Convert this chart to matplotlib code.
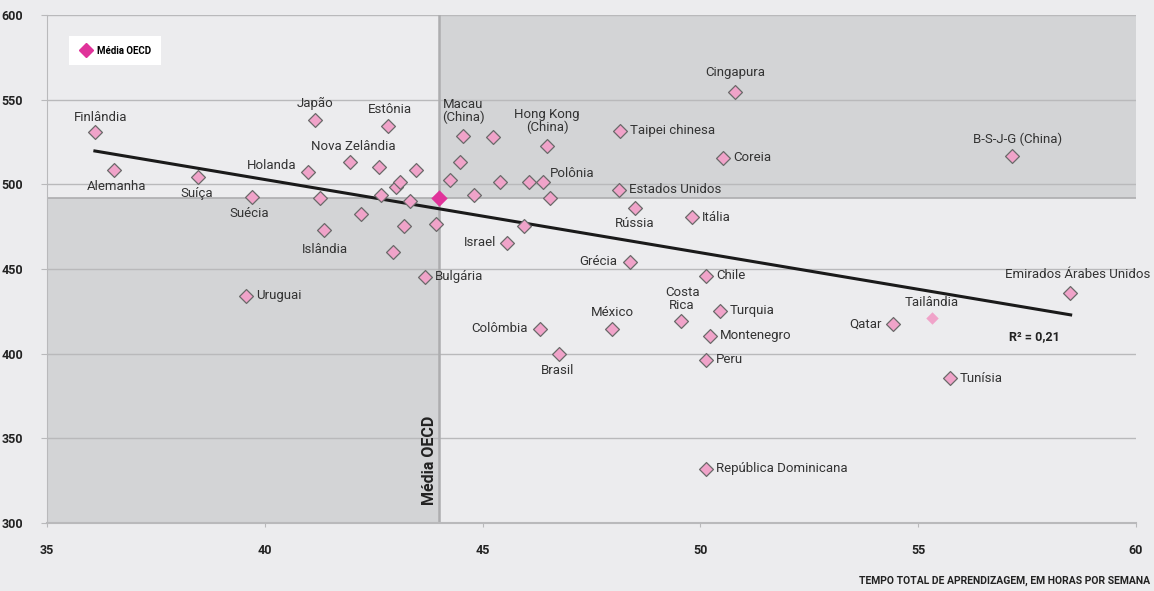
import matplotlib.pyplot as plt
from matplotlib.lines import Line2D
from matplotlib.patches import Rectangle
import numpy as np

plt.rcParams['font.family'] = ['Roboto', 'DejaVu Sans']

# paises com rotulo
paises = ['Finlândia', 'Alemanha', 'Suíça', 'Suécia', 'Uruguai', 'Holanda', 'Japão',
          'Nova Zelândia', 'Estônia', 'Islândia', 'Bulgária', 'Macau\n(China)',
          'Hong Kong\n(China)', 'Taipei chinesa', 'Polônia', 'Estados Unidos', 'Rússia',
          'Israel', 'Grécia', 'Cingapura', 'Coreia', 'Itália', 'Chile', 'Turquia',
          'Montenegro', 'Peru', 'Costa\nRica', 'México', 'Colômbia', 'Brasil',
          'República Dominicana', 'B-S-J-G (China)', 'Emirados Árabes Unidos', 'Qatar',
          'Tunísia']
horas = [36.10, 36.54, 38.47, 39.71, 39.57, 40.99, 41.15,
         41.96, 42.83, 41.36, 43.68, 44.55,
         46.48, 48.15, 46.39, 48.13, 48.50,
         45.56, 48.38, 50.79, 50.52, 49.81, 50.13, 50.45,
         50.22, 50.13, 49.55, 47.97, 46.32, 46.75,
         50.13, 57.15, 58.48, 54.42,
         55.73]
nota = [531.0, 508.5, 504.4, 492.6, 434.1, 507.3, 538.0,
        513.2, 534.5, 473.1, 445.3, 528.6,
        522.7, 531.5, 501.4, 496.7, 486.1,
        465.4, 454.2, 554.6, 515.6, 480.7, 445.9, 425.2,
        410.5, 396.3, 419.3, 414.6, 414.6, 399.8,
        331.9, 516.8, 435.9, 417.5,
        385.6]

# paises sem rotulo
horas_sr = [41.27, 42.62, 43.47, 43.01, 43.10, 42.67, 43.33, 42.21, 43.20, 43.93,
            42.94, 44.25, 44.48, 44.80, 45.24, 45.40, 46.07, 46.55, 45.95]
nota_sr = [492.0, 510.3, 508.5, 498.5, 501.4, 493.7, 490.2, 482.5, 475.4, 476.6,
           460.1, 502.6, 513.2, 493.7, 528.0, 501.4, 501.4, 492.0, 475.4]

# Tailandia (cor mais clara)
tai_x, tai_y = 55.32, 421.1

# media OECD
oecd_x, oecd_y = 44.0, 492.0

# linha de tendencia
trend_x = [36.1, 58.5]
trend_y = [519.7, 422.9]

# posicao dos rotulos (offset em pontos, alinhamento)
pos = {
    'Finlândia': (4, 10, 'center'), 'Alemanha': (2, -12, 'center'), 'Suíça': (-1, -12, 'center'),
    'Suécia': (-2, -12, 'center'), 'Uruguai': (7, 0, 'left'), 'Holanda': (-8, 5, 'right'),
    'Japão': (0, 12, 'center'), 'Nova Zelândia': (2, 11, 'center'), 'Estônia': (1, 12, 'center'),
    'Islândia': (1, -14, 'center'), 'Bulgária': (7, 0, 'left'), 'Macau\n(China)': (0, 18, 'center'),
    'Hong Kong\n(China)': (0, 18, 'center'), 'Taipei chinesa': (7, 0, 'left'),
    'Polônia': (5, 6, 'left'), 'Estados Unidos': (7, 0, 'left'), 'Rússia': (0, -11, 'center'),
    'Israel': (-8, 0, 'right'), 'Grécia': (-9, 0, 'right'), 'Cingapura': (0, 14, 'center'),
    'Coreia': (7, 0, 'left'), 'Itália': (7, 0, 'left'), 'Chile': (7, 0, 'left'),
    'Turquia': (7, 0, 'left'), 'Montenegro': (7, 0, 'left'), 'Peru': (7, 0, 'left'),
    'Costa\nRica': (1, 16, 'center'), 'México': (0, 12, 'center'), 'Colômbia': (-9, 0, 'right'),
    'Brasil': (-1, -12, 'center'), 'República Dominicana': (7, 0, 'left'),
    'B-S-J-G (China)': (4, 12, 'center'), 'Emirados Árabes Unidos': (6, 13, 'center'),
    'Qatar': (-8, 0, 'right'), 'Tunísia': (7, 0, 'left'),
}

bg = '#ececee'
dark = '#d3d4d6'
grid = '#b9b9bb'
pink = '#f0a3c9'

fig = plt.figure(figsize=(11.54, 5.91), dpi=100, facecolor=bg)
ax = fig.add_axes([0.0407, 0.1151, 0.9437, 0.8595])
ax.set_facecolor(bg)
ax.set_xlim(35, 60)
ax.set_ylim(300, 600)

# quadrantes escuros
ax.add_patch(Rectangle((oecd_x, oecd_y), 60 - oecd_x, 600 - oecd_y, color=dark, zorder=0, lw=0))
ax.add_patch(Rectangle((35, 300), oecd_x - 35, oecd_y - 300, color=dark, zorder=0, lw=0))

for v in [350, 400, 450, 500, 550, 600]:
    ax.axhline(v, color=grid, lw=1, zorder=1)
ax.axvline(oecd_x, color='#adadaf', lw=1.8, zorder=1)
ax.axhline(oecd_y, color='#adadaf', lw=1.2, zorder=1)

ax.plot(trend_x, trend_y, color='#1a1a1a', lw=2.2, zorder=3)

ax.scatter(horas, nota, marker='D', s=50, color=pink, edgecolor='#6a6a6a', lw=0.9, zorder=4)
ax.scatter(horas_sr, nota_sr, marker='D', s=50, color=pink, edgecolor='#6a6a6a', lw=0.9, zorder=4)
ax.scatter([tai_x], [tai_y], marker='D', s=40, color=pink, lw=0, zorder=4)
ax.scatter([oecd_x], [oecd_y], marker='D', s=70, color='#e0339a', lw=0, zorder=5)

for nome, x, y in zip(paises, horas, nota):
    dx, dy, ha = pos[nome]
    ax.annotate(nome, (x, y), xytext=(dx, dy), textcoords='offset points',
                ha=ha, va='center', fontsize=9.5, color='#333333', linespacing=0.95, zorder=6)
ax.annotate('Tailândia', (tai_x, tai_y), xytext=(0, 11), textcoords='offset points',
            ha='center', va='center', fontsize=9.5, color='#333333', zorder=6)

ax.text(58.26, 410, 'R² = 0,21', ha='right', va='center', fontsize=9, fontweight='bold', color='#222222')
ax.text(43.78, 337, 'Média OECD', rotation=90, ha='center', va='center', fontsize=11.5,
        fontweight='bold', color='#222222')

leg = ax.legend(handles=[Line2D([], [], marker='D', ls='none', color='#e0339a', markersize=7)],
                labels=['Média OECD'], loc='upper left', bbox_to_anchor=(0.0202, 0.9587),
                borderaxespad=0, fancybox=False, framealpha=1, edgecolor='white',
                prop={'size': 7, 'weight': 'bold'}, handletextpad=0.3, borderpad=1.0,
                handlelength=1.6)
leg.get_frame().set_linewidth(0)
leg._legend_box.align = 'left'

ax.set_xticks([35, 40, 45, 50, 55, 60])
ax.set_yticks([300, 350, 400, 450, 500, 550, 600])
ax.tick_params(axis='x', length=3, color=grid, pad=12, labelsize=9)
ax.tick_params(axis='y', length=4, color=grid, pad=13, labelsize=9)
for lab in ax.get_xticklabels() + ax.get_yticklabels():
    lab.set_fontweight('bold')
    lab.set_color('#222222')

for s in ['top', 'right']:
    ax.spines[s].set_visible(False)
ax.spines['left'].set_color(grid)
ax.spines['bottom'].set_color(grid)
ax.spines['bottom'].set_linewidth(1.5)

fig.text(0.9965, 0.008, 'TEMPO TOTAL DE APRENDIZAGEM, EM HORAS POR SEMANA', ha='right', va='bottom',
         fontsize=7.5, fontweight='bold', color='#222222')

fig.savefig('out.png', dpi=100, facecolor=bg)
